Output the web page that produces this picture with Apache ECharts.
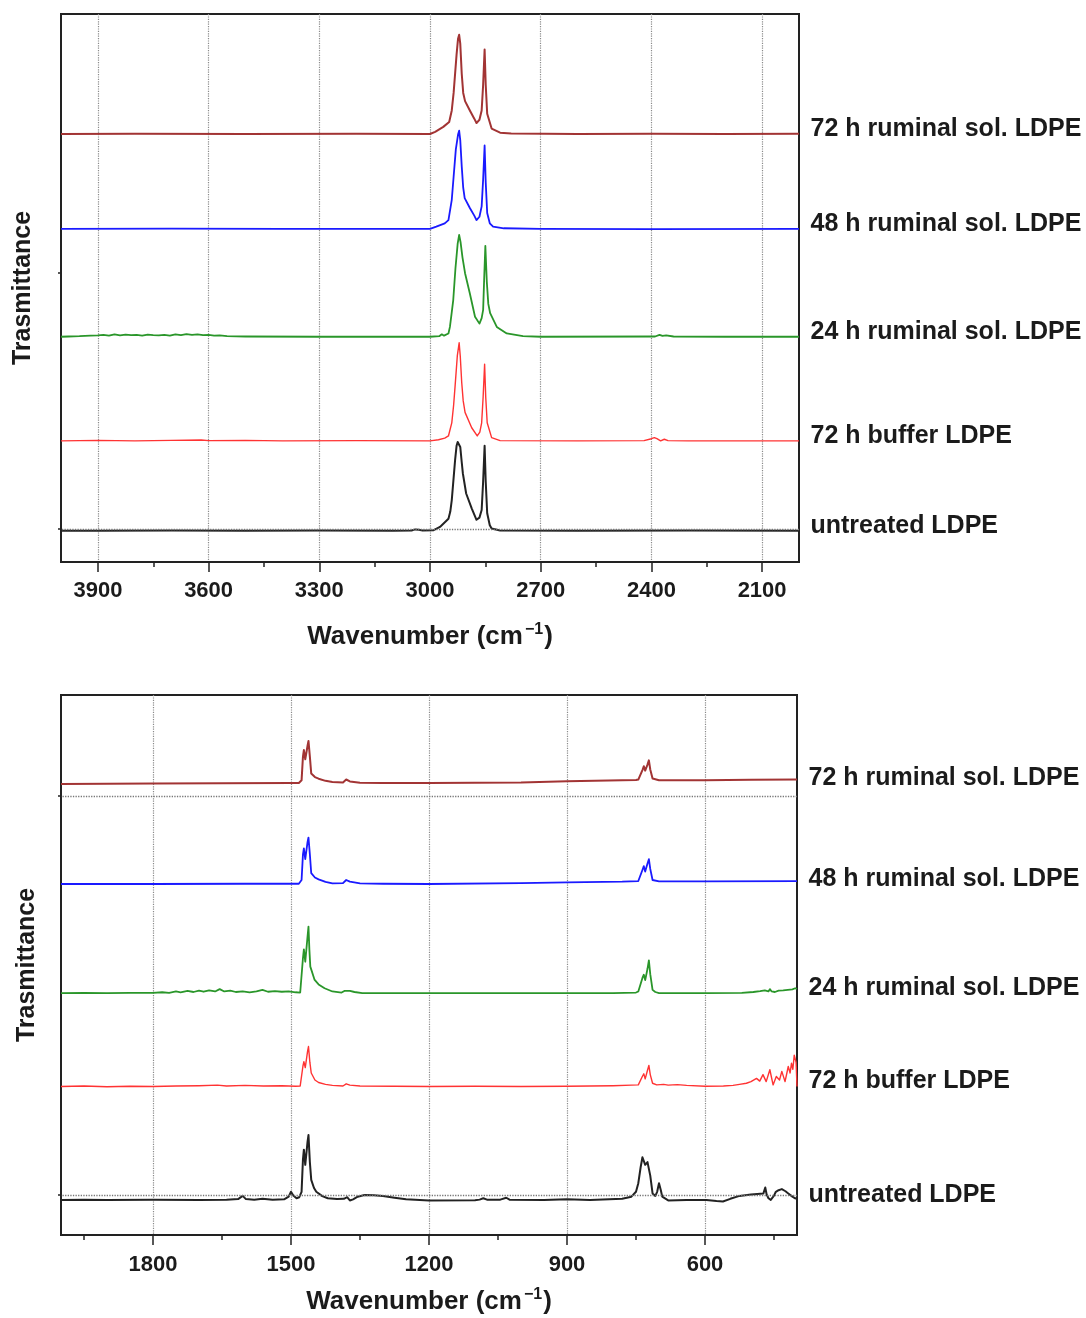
<!DOCTYPE html>
<html>
<head>
<meta charset="utf-8">
<script src="https://cdn.jsdelivr.net/npm/echarts/dist/echarts.min.js"></script>
<style>
  html, body { margin: 0; padding: 0; background: #ffffff; }
  #chart { width: 1086px; height: 1318px; }
</style>
</head>
<body>
<div id="chart"></div>
<script>
// FTIR spectra of LDPE films, stacked with vertical offsets (transmittance, a.u.)
// Upper panel: C–H stretching region (4000–2000 cm-1)
// Lower panel: fingerprint region (2000–400 cm-1)

const sampleNames = [
  '72 h ruminal sol. LDPE',
  '48 h ruminal sol. LDPE',
  '24 h ruminal sol. LDPE',
  '72 h buffer LDPE',
  'untreated LDPE'
];

// stacking offsets of each trace (a.u.)
const chOffsets = [78.1, 60.8, 41.1, 22.1, 5.7];
const fpOffsets = [83.6, 65.0, 44.8, 27.5, 6.5];

// horizontal reference lines (a.u.)
const chRefLines = [6.0];
const fpRefLines = [81.3, 7.4];

// wavenumber ticks (cm-1)
const chMajorTicks = [2100, 2400, 2700, 3000, 3300, 3600, 3900];
const chMinorTicks = [2250, 2550, 2850, 3150, 3450, 3750];
const fpMajorTicks = [600, 900, 1200, 1500, 1800];
const fpMinorTicks = [450, 750, 1050, 1350, 1650, 1950];

// ---- C–H stretching region: [wavenumber, signal above baseline] ----
const ch72hRuminal = [
  [4000,0],[3800,0.05],[3500,0],[3200,0.05],[3000,0],[2986,0.4],[2964,1.3],[2948,2.2],
  [2941,4.3],[2936,7.5],[2928,14.5],[2924,17.4],[2921,18.1],[2918,16.5],[2914,11],
  [2910,7.5],[2905,6.0],[2892,4.3],[2880,2.8],[2874,2.0],[2866,2.6],[2860,4.3],
  [2856,9],[2852,15.4],[2849,9],[2845,3.7],[2833,1.0],[2810,0.25],[2780,0.1],
  [2600,0],[2400,0.05],[2200,0],[2000,0.05]
];
const ch48hRuminal = [
  [4000,0],[3700,0.05],[3400,0],[3000,0],[2983,0.4],[2960,1.0],[2950,1.6],[2941,5.3],
  [2936,9.5],[2930,14.5],[2924,17.2],[2921,17.9],[2918,16.2],[2914,11.4],[2910,7.5],
  [2906,5.6],[2892,3.8],[2880,2.4],[2874,1.6],[2866,2.2],[2860,4.1],[2856,9],
  [2852,15.2],[2849,8.5],[2845,2.9],[2838,1.0],[2829,0.4],[2800,0.1],[2700,0],
  [2400,-0.05],[2000,0]
];
const ch24hRuminal = [
  [4000,0],[3980,0.05],[3950,0.1],[3920,0.2],[3900,0.25],[3885,0.35],[3870,0.2],
  [3855,0.45],[3840,0.25],[3825,0.4],[3810,0.3],[3795,0.35],[3780,0.2],[3765,0.4],
  [3750,0.3],[3735,0.25],[3720,0.35],[3705,0.2],[3690,0.45],[3675,0.3],[3660,0.5],
  [3645,0.35],[3630,0.45],[3615,0.3],[3600,0.35],[3585,0.2],[3570,0.25],[3550,0.1],
  [3500,0.05],[3300,0],[3000,0],[2975,0.1],[2968,0.45],[2962,0.2],[2957,-0.05],
  [2950,0.6],[2946,1.8],[2941,4.5],[2937,6.7],[2931,12.5],[2925,17.0],[2921,18.6],
  [2917,17.2],[2912,14.5],[2905,11.6],[2892,7.9],[2878,3.65],[2866,2.4],[2860,3.4],
  [2856,4.9],[2853,11],[2850,16.6],[2846,10],[2842,6.0],[2837,4.3],[2819,1.8],
  [2792,0.6],[2748,0.1],[2700,0],[2390,0.05],[2378,0.35],[2370,0.15],[2360,0.25],
  [2340,0.05],[2200,0],[2000,0]
];
const ch72hBuffer = [
  [4000,0],[3900,0.1],[3800,0],[3700,0.1],[3620,0.15],[3600,0.05],[3500,0.1],[3400,0],
  [3200,0.05],[3000,0],[2977,0.2],[2960,0.5],[2950,0.9],[2941,3.3],[2936,6.5],
  [2932,10],[2926,15.5],[2921,17.9],[2918,15.5],[2914,10.6],[2910,7.3],[2905,5.2],
  [2887,2.4],[2872,0.9],[2865,1.6],[2860,3.3],[2856,8],[2852,14.0],[2849,8],
  [2845,3.3],[2833,0.6],[2810,0.05],[2600,0],[2420,0.05],[2400,0.4],[2392,0.6],
  [2385,0.4],[2375,0],[2365,0.3],[2355,0.05],[2300,0],[2000,0]
];
const chUntreated = [
  [4000,0],[3900,0],[3700,0.05],[3500,0],[3300,0.05],[3100,0],[3050,0.05],[3040,0.25],
  [3030,0.2],[3020,0.05],[2990,0.1],[2973,0.7],[2959,1.6],[2950,2.2],[2945,3.5],
  [2941,5.6],[2932,12.9],[2928,15.5],[2925,16.2],[2921,16.0],[2918,15.3],[2914,12.5],
  [2911,10.5],[2902,6.8],[2887,4.1],[2874,2.0],[2866,2.4],[2860,3.8],[2856,9],
  [2852,15.5],[2849,9],[2845,3.2],[2838,1.0],[2833,0.4],[2810,0.05],[2600,0],
  [2300,0.05],[2000,0]
];

// ---- fingerprint region: [wavenumber, signal above baseline] ----
const fp72hRuminal = [
  [2000,-0.1],[1900,-0.05],[1800,0],[1650,0.05],[1500,0.1],[1483,0.1],[1477,0.6],
  [1474,5.0],[1472,6.2],[1469,4.5],[1467,4.3],[1464,7.0],[1462,7.9],[1459,5.0],
  [1456,1.85],[1448,1.2],[1440,0.9],[1425,0.5],[1410,0.3],[1387,0.2],[1380,0.75],
  [1372,0.4],[1350,0.15],[1300,0.1],[1200,0.12],[1000,0.2],[900,0.43],[780,0.6],
  [750,0.65],[745,0.74],[736,2.5],[733,3.2],[730,2.4],[728,2.35],[725,3.5],[722,4.3],
  [719,2.6],[714,0.93],[700,0.62],[600,0.62],[500,0.7],[400,0.74]
];
const fp48hRuminal = [
  [2000,0],[1800,0],[1600,0.05],[1500,0.05],[1483,0.05],[1477,0.74],[1474,5.5],
  [1472,6.6],[1469,4.6],[1467,4.4],[1464,7.8],[1462,8.6],[1459,5.5],[1456,2.0],
  [1448,1.2],[1440,0.86],[1425,0.4],[1410,0.1],[1387,0.15],[1380,0.74],[1372,0.43],
  [1350,0.12],[1300,0.05],[1200,0],[1000,0.15],[900,0.3],[780,0.43],[745,0.55],
  [736,2.6],[733,3.3],[730,2.3],[728,2.1],[725,3.8],[722,4.6],[719,2.8],[714,0.74],
  [700,0.5],[600,0.5],[400,0.55]
];
const fp24hRuminal = [
  [2000,0],[1950,0.05],[1900,0],[1850,0.05],[1800,0.05],[1780,0.15],[1765,0.05],
  [1750,0.3],[1740,0.15],[1725,0.4],[1712,0.2],[1700,0.45],[1690,0.25],[1678,0.5],
  [1665,0.3],[1655,0.74],[1645,0.3],[1632,0.45],[1620,0.2],[1605,0.3],[1590,0.15],
  [1575,0.3],[1562,0.6],[1550,0.25],[1535,0.35],[1520,0.25],[1505,0.3],[1490,0.15],
  [1480,0.1],[1477,0.3],[1474,6.5],[1472,8.1],[1469,5.8],[1467,5.6],[1464,10.5],
  [1462,12.3],[1460,8],[1458,4.9],[1449,2.5],[1440,1.6],[1427,0.9],[1410,0.3],
  [1390,0.1],[1384,0.4],[1380,0.74],[1372,0.4],[1362,0.2],[1345,0],[1200,0],[1000,0],
  [800,0],[750,0.1],[745,0.3],[736,2.8],[733,3.4],[730,2.4],[728,2.2],[725,4.5],
  [722,6.05],[719,3.5],[714,0.6],[708,0.2],[700,0],[600,0],[520,0.05],[495,0.2],
  [480,0.35],[470,0.5],[462,0.3],[459,0.74],[455,0.3],[452,0.5],[448,0.2],[440,0.45],
  [430,0.5],[420,0.6],[410,0.7],[404,0.9],[400,0.75]
];
const fp72hBuffer = [
  [2000,0],[1950,0.1],[1900,-0.05],[1850,0.05],[1800,0],[1750,0.1],[1700,0.15],
  [1660,0.25],[1640,0.1],[1600,0.2],[1560,0.1],[1520,0.15],[1490,0.05],[1480,0.1],
  [1477,0.4],[1474,3.8],[1472,4.6],[1469,3.5],[1467,3.4],[1464,6.5],[1462,7.4],
  [1459,4.5],[1456,2.5],[1448,1.2],[1440,0.74],[1425,0.4],[1410,0.2],[1387,0.1],
  [1380,0.5],[1372,0.25],[1350,0.1],[1200,0],[1100,0.05],[1000,0],[900,0.05],
  [800,0.15],[760,0.25],[745,0.3],[736,1.9],[733,2.35],[730,1.4],[728,1.2],[725,3.0],
  [722,3.9],[719,2.2],[714,0.6],[705,0.3],[690,0.4],[680,0.25],[660,0.35],[640,0.2],
  [600,0.05],[560,0.1],[539,0.2],[525,0.4],[510,0.6],[500,0.9],[488,1.5],[481,1.0],
  [474,2.2],[467,0.9],[459,3.1],[452,0.3],[445,1.85],[438,1.2],[433,2.8],[426,0.9],
  [419,3.7],[415,2.5],[412,4.3],[409,3.2],[406,5.8],[402,4.5],[400,0]
];
const fpUntreated = [
  [2000,0],[1950,0.05],[1900,0],[1800,0.05],[1700,0],[1640,0.05],[1615,0.15],
  [1605,0.74],[1598,0.15],[1580,0.05],[1562,0.2],[1540,0.05],[1515,0.1],[1505,0.6],
  [1500,1.5],[1495,0.8],[1488,0.3],[1482,0.5],[1477,1.5],[1474,7.5],[1472,9.3],
  [1469,6.5],[1467,6.2],[1464,10.8],[1462,12.0],[1459,7.0],[1456,3.7],[1450,2.2],
  [1445,1.5],[1432,0.7],[1420,0.3],[1400,0.15],[1385,0.2],[1378,0.5],[1372,-0.1],
  [1365,0.1],[1355,0.6],[1340,0.9],[1320,0.85],[1300,0.74],[1275,0.4],[1250,0.1],
  [1200,-0.1],[1100,-0.05],[1090,0.05],[1082,0.3],[1074,0.05],[1045,0.05],[1032,0.4],
  [1025,0.05],[950,0],[900,0.1],[850,0],[780,0.2],[760,0.6],[750,1.5],[745,3.1],
  [740,6.0],[736,7.9],[733,8.1],[730,6.5],[728,6.2],[725,7.0],[722,7.1],[719,4.5],
  [714,1.2],[708,0.74],[704,1.5],[700,3.1],[696,1.8],[693,0.6],[680,-0.1],[640,0],
  [597,0],[575,-0.2],[561,-0.3],[545,0.2],[525,0.74],[500,1.0],[473,1.2],[469,2.3],
  [466,1.0],[462,0.3],[457,0],[450,0.8],[446,1.5],[440,1.8],[433,2.0],[425,1.6],
  [419,1.2],[410,0.6],[404,0.3],[400,0.2]
];

const chSpectra = [ch72hRuminal, ch48hRuminal, ch24hRuminal, ch72hBuffer, chUntreated];
const fpSpectra = [fp72hRuminal, fp48hRuminal, fp24hRuminal, fp72hBuffer, fpUntreated];

// ---- styling ----
const FONT = '"Liberation Sans", Arial, Helvetica, sans-serif';
const INK = '#1b1b1b';
const traceColors = ['#a23434', '#1a1aff', '#2a962a', '#ff3333', '#222222'];
const traceWidths = [2.0, 1.8, 1.8, 1.4, 2.0];

function majorAxis(gridIndex, min, max, ticks, nameGap, labelMargin) {
  return {
    type: 'value', gridIndex, min, max, inverse: true, position: 'bottom',
    name: '{base|Wavenumber (cm}{sup|\u22121}{base|)}',
    nameLocation: 'middle', nameGap,
    nameTextStyle: {
      fontFamily: FONT, fontSize: 26, fontWeight: 'bold', color: INK,
      rich: {
        base: { fontFamily: FONT, fontSize: 26, fontWeight: 'bold', color: INK, lineHeight: 30 },
        sup: { fontFamily: FONT, fontSize: 16, fontWeight: 'bold', color: INK, lineHeight: 16, padding: [0, 1, 14, 2] }
      }
    },
    axisLine: { show: true, lineStyle: { color: '#222', width: 2 } },
    axisTick: { show: true, customValues: ticks, length: 10, lineStyle: { color: '#222', width: 1.5 } },
    axisLabel: {
      show: true, customValues: ticks, margin: labelMargin,
      fontFamily: FONT, fontSize: 22, fontWeight: 'bold', color: INK,
      formatter: v => String(v)
    },
    splitLine: { show: true, lineStyle: { color: '#8a8a8a', type: 'dotted', width: 1.2 } }
  };
}
function minorAxis(gridIndex, min, max, ticks) {
  return {
    type: 'value', gridIndex, min, max, inverse: true, position: 'bottom',
    axisLine: { show: false },
    axisTick: { show: true, customValues: ticks, length: 5, lineStyle: { color: '#222', width: 1.5 } },
    axisLabel: { show: false },
    splitLine: { show: false }
  };
}
function yAxisFor(gridIndex, ticks, nameGap) {
  return {
    type: 'value', gridIndex, min: 0, max: 100,
    name: 'Trasmittance', nameLocation: 'middle', nameRotate: 90, nameGap,
    nameTextStyle: { fontFamily: FONT, fontSize: 25, fontWeight: 'bold', color: INK },
    axisLine: { show: true, lineStyle: { color: '#222', width: 2 } },
    axisTick: { show: true, customValues: ticks, length: 3, lineStyle: { color: '#222', width: 1.5 } },
    axisLabel: { show: false },
    splitLine: { show: false }
  };
}

function buildSeries(spectra, offsets, xAxisIndex, yAxisIndex, endWavenumber, refLines) {
  return spectra.map((spec, i) => {
    const s = {
      type: 'line', name: sampleNames[i], xAxisIndex, yAxisIndex,
      showSymbol: false, symbol: 'none', animation: false, silent: true,
      clip: true, z: 3,
      lineStyle: { color: traceColors[i], width: traceWidths[i], join: 'round' },
      itemStyle: { color: traceColors[i] },
      data: spec.map(([w, v]) => [w, +(offsets[i] + v).toFixed(3)]),
      markPoint: {
        symbol: 'circle', symbolSize: 1, silent: true, animation: false,
        itemStyle: { color: 'rgba(0,0,0,0)' },
        data: [{ coord: [endWavenumber, offsets[i]] }],
        label: {
          show: true, position: 'right', distance: 11, offset: [0, -5],
          formatter: sampleNames[i],
          fontFamily: FONT, fontSize: 25, fontWeight: 'bold', color: INK
        }
      }
    };
    if (i === spectra.length - 1) {
      s.markLine = {
        symbol: 'none', silent: true, animation: false,
        label: { show: false },
        lineStyle: { color: '#777', type: 'dotted', width: 1.3 },
        data: refLines.map(y => ({ yAxis: y }))
      };
    }
    return s;
  });
}

const chart = echarts.init(document.getElementById('chart'), null, { renderer: 'canvas' });
chart.setOption({
  backgroundColor: '#ffffff',
  animation: false,
  grid: [
    { left: 61, top: 14, width: 738, height: 548, show: true, borderColor: '#222', borderWidth: 2, backgroundColor: 'transparent' },
    { left: 61, top: 695, width: 736, height: 540, show: true, borderColor: '#222', borderWidth: 2, backgroundColor: 'transparent' }
  ],
  xAxis: [
    majorAxis(0, 2000, 4000, chMajorTicks, 60, 18),
    minorAxis(0, 2000, 4000, chMinorTicks),
    majorAxis(1, 400, 2000, fpMajorTicks, 52, 19),
    minorAxis(1, 400, 2000, fpMinorTicks)
  ],
  yAxis: [
    yAxisFor(0, [6.0, 52.7], 25),
    yAxisFor(1, [7.4, 81.3], 21)
  ],
  series: [
    ...buildSeries(chSpectra, chOffsets, 0, 0, 2000, chRefLines),
    ...buildSeries(fpSpectra, fpOffsets, 2, 1, 400, fpRefLines)
  ]
});
</script>
</body>
</html>
